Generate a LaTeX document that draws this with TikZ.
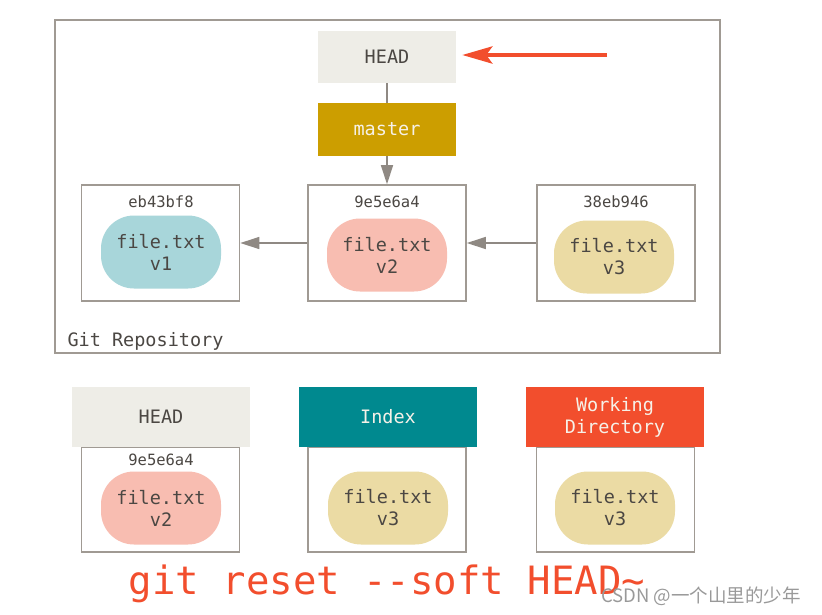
\documentclass[tikz,border=0pt]{standalone}
\usepackage{fontspec}
\setmainfont{DejaVu Sans Mono}
\newfontfamily\cjk{Noto Sans CJK SC}
\usetikzlibrary{arrows.meta}

\definecolor{headgray}{HTML}{EEEDE7}
\definecolor{mastergold}{HTML}{CC9E00}
\definecolor{indexteal}{HTML}{00898F}
\definecolor{workred}{HTML}{F24E2D}
\definecolor{boxgray}{HTML}{A09A93}
\definecolor{linegray}{HTML}{8F8983}
\definecolor{txtgray}{HTML}{4B4743}
\definecolor{lighttxt}{HTML}{F6F1E8}
\definecolor{blobblue}{HTML}{A8D6DA}
\definecolor{blobpink}{HTML}{F8BDB1}
\definecolor{blobsand}{HTML}{EBDBA4}

\tikzset{
  lbl/.style={font=\fontsize{18.5}{22}\selectfont, text=txtgray},
  refbox/.style={lbl, minimum width=138pt, minimum height=52pt, inner sep=0pt},
  areahead/.style={lbl, minimum width=178pt, minimum height=60pt, inner sep=0pt, align=center},
  commitbox/.style={draw=boxgray, line width=1.6pt, fill=white, minimum width=158pt, inner sep=0pt},
  hash/.style={font=\fontsize{15.5}{18}\selectfont, text=txtgray},
  blob/.style={lbl, rounded corners=33pt, minimum width=120pt, minimum height=73pt, inner sep=0pt, align=center},
  link/.style={draw=linegray, line width=1.6pt},
  ptr/.style={link, -{Triangle[length=19pt,width=12pt]}}
}

\begin{document}
\begin{tikzpicture}[x=1pt, y=-1pt]
  \useasboundingbox (0,0) rectangle (822,614);

  % repository
  \node[draw=boxgray, line width=1.6pt, minimum width=665pt, minimum height=333pt, inner sep=0pt] (repo) at (387.5,186.5) {};
  \node[lbl, anchor=west] (repolbl) at (64,341) {Git Repository};

  \node[refbox, fill=headgray] (headtop) at (387,57) {HEAD};
  \node[refbox, fill=mastergold, text=lighttxt, minimum height=53pt] (master) at (387,129.5) {master};
  \coordinate (redstart) at (607,55);
  \draw[workred, line width=4.5pt, -{Stealth[length=30pt,width=17pt,inset=6pt]}, shorten >=6pt] (redstart) -- (headtop.east |- redstart);

  \node[commitbox, minimum height=116pt] (c1) at (160.5,243) {};
  \node[commitbox, minimum height=116pt] (c2) at (387,243) {};
  \node[commitbox, minimum height=116pt] (c3) at (616,243) {};

  \node[hash] (h1) at (161,202) {eb43bf8};
  \node[hash] (h2) at (387,202) {9e5e6a4};
  \node[hash] (h3) at (616,202) {38eb946};

  \node[blob, fill=blobblue] (b1) at (161,252) {file.txt\\v1};
  \node[blob, fill=blobpink] (b2) at (387,255) {file.txt\\v2};
  \node[blob, fill=blobsand] (b3) at (614,257) {file.txt\\v3};

  \draw[link] (headtop) -- (master);
  \draw[ptr] (master) -- (c2);
  \draw[ptr] (c2) -- (c1);
  \draw[ptr] (c3) -- (c2);

  % three trees
  \node[commitbox, minimum height=105pt] (t1) at (160.5,499.5) {};
  \node[commitbox, minimum height=105pt] (t2) at (387,499.5) {};
  \node[commitbox, minimum height=105pt] (t3) at (615.5,499.5) {};

  \node[areahead, fill=headgray] (headbox) at (161,417) {HEAD};
  \node[areahead, fill=indexteal, text=lighttxt] (indexbox) at (388,417) {Index};
  \node[areahead, fill=workred, text=lighttxt] (workbox) at (615,417) {Working\\Directory};

  \node[hash] (h4) at (161,460) {9e5e6a4};
  \node[blob, fill=blobpink] (b4) at (161,508) {file.txt\\v2};
  \node[blob, fill=blobsand] (b5) at (388,508) {file.txt\\v3};
  \node[blob, fill=blobsand] (b6) at (615,508) {file.txt\\v3};

  \node[font=\fontsize{39}{44}\selectfont, text=workred, anchor=base] (cmd) at (387,594) {git reset -{}-soft HEAD\string~};
  \node[font=\cjk\fontsize{18.5}{20}\selectfont, text=gray!80, anchor=base] (mark) at (701,602) {CSDN @一个山里的少年};
\end{tikzpicture}
\end{document}
